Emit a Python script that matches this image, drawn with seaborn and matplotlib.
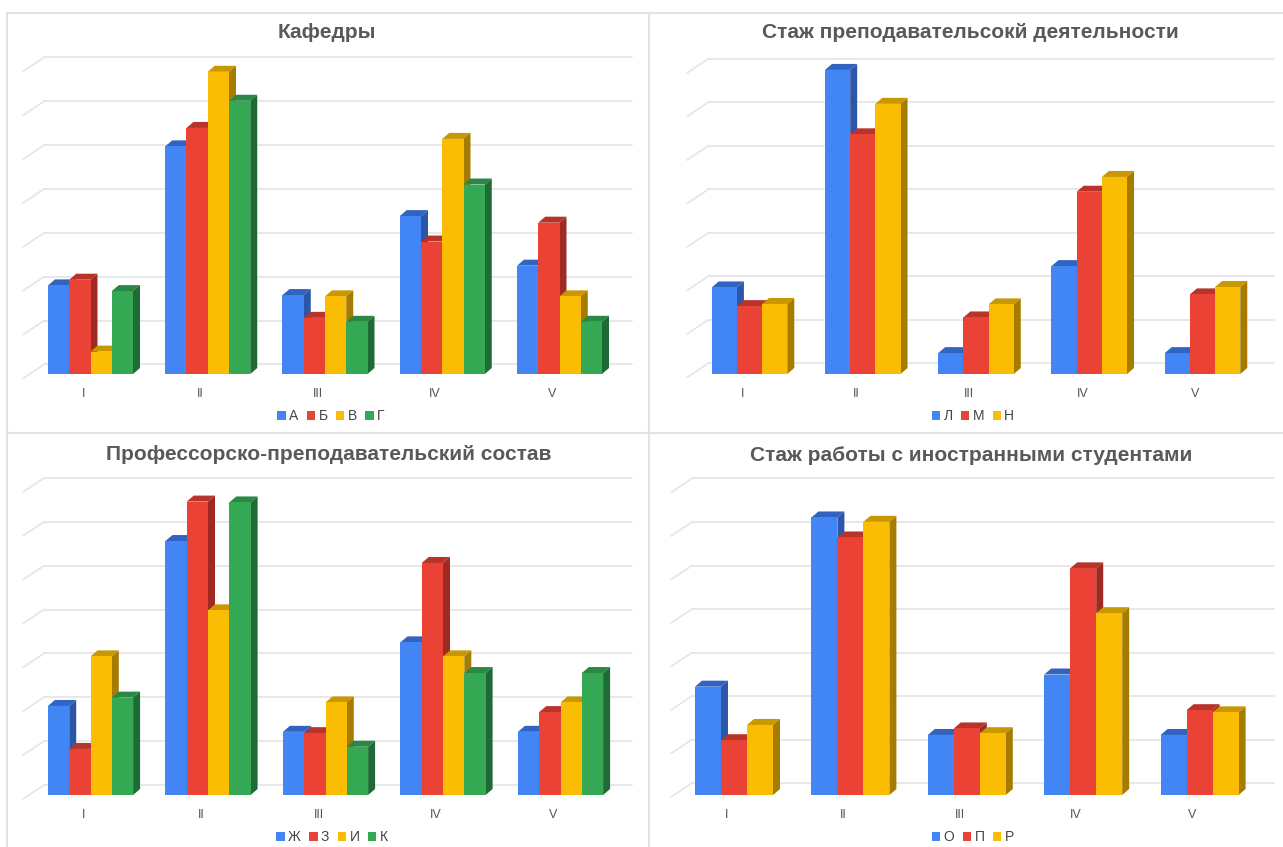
import numpy as np
import pandas as pd
import matplotlib
matplotlib.use("Agg")
import matplotlib.pyplot as plt
from matplotlib.patches import Polygon, Rectangle
from matplotlib.lines import Line2D
from matplotlib.transforms import ScaledTranslation
import seaborn as sns

# ---------------- DATA ----------------
categories = ["I", "II", "III", "IV", "V"]

kaf_title = "Кафедры"
kaf_series = ["А", "Б", "В", "Г"]
kaf_A = [2.02, 5.19, 1.80, 3.60, 2.47]
kaf_B = [2.15, 5.61, 1.28, 3.02, 3.45]
kaf_V = [0.51, 6.89, 1.77, 5.36, 1.77]
kaf_G = [1.89, 6.23, 1.19, 4.32, 1.19]

staz_title = "Стаж преподавательсокй деятельности"
staz_series = ["Л", "М", "Н"]
staz_L = [1.99, 6.99, 0.48, 2.48, 0.48]
staz_M = [1.56, 5.51, 1.30, 4.19, 1.83]
staz_N = [1.61, 6.21, 1.60, 4.53, 2.00]

pps_title = "Профессорско-преподавательский состав"
pps_series = ["Ж", "З", "И", "К"]
pps_Zh = [2.03, 5.79, 1.44, 3.48, 1.44]
pps_Z = [1.05, 6.69, 1.41, 5.29, 1.89]
pps_I = [3.16, 4.21, 2.11, 3.16, 2.11]
pps_K = [2.22, 6.67, 1.10, 2.78, 2.78]

inos_title = "Стаж работы с иностранными студентами"
inos_series = ["О", "П", "Р"]
inos_O = [2.49, 6.38, 1.38, 2.77, 1.38]
inos_P = [1.26, 5.92, 1.53, 5.21, 1.95]
inos_R = [1.61, 6.28, 1.42, 4.18, 1.90]

# ---------------- STYLE ----------------
front_cols = ["#4285F4", "#EA4335", "#FBBC04", "#34A853"]
top_cols = ["#3164C2", "#B8342A", "#C99700", "#2A8745"]
side_cols = ["#2C57A6", "#A02A22", "#A67C00", "#1F6B36"]

sns.set_theme(style="white")
plt.rcParams["font.family"] = ["Liberation Sans", "DejaVu Sans"]

W, H = 1283, 847
fig = plt.figure(figsize=(W / 100, H / 100), dpi=100)
fig.patch.set_facecolor("white")

panels = [
    dict(title=kaf_title, series=kaf_series, values=[kaf_A, kaf_B, kaf_V, kaf_G],
         wall_left=44, wall_right=632, cat0=90.5, step=117.25, base=374, top_grid=58,
         wall_off=9.5, unit=43.86, wfrac=0.725, title_x=327, title_y=33,
         leg_x=331, leg_y=416),
    dict(title=staz_title, series=staz_series, values=[staz_L, staz_M, staz_N],
         wall_left=708, wall_right=1274, cat0=749.5, step=113.25, base=374, top_grid=59,
         wall_off=10.5, unit=43.5, wfrac=0.667, title_x=970, title_y=33,
         leg_x=973, leg_y=416),
    dict(title=pps_title, series=pps_series, values=[pps_Zh, pps_Z, pps_I, pps_K],
         wall_left=44, wall_right=632, cat0=90.5, step=117.5, base=795, top_grid=478,
         wall_off=10, unit=43.86, wfrac=0.725, title_x=329, title_y=454,
         leg_x=332, leg_y=837),
    dict(title=inos_title, series=inos_series, values=[inos_O, inos_P, inos_R],
         wall_left=692, wall_right=1274, cat0=734, step=116.4, base=795, top_grid=479,
         wall_off=12, unit=43.5, wfrac=0.67, title_x=971, title_y=455,
         leg_x=973, leg_y=837),
]

DX_PX, DY_PX = 7.0, 6.0
GRID_COLOR = "#e6e6e6"

for p in panels:
    bottom_px = p["base"] + 5
    top_px = p["top_grid"] - 6
    ax = fig.add_axes([p["wall_left"] / W, 1 - bottom_px / H,
                       (p["wall_right"] - p["wall_left"]) / W, (bottom_px - top_px) / H])
    ax.set_facecolor("none")

    rows = []
    for s, vals in zip(p["series"], p["values"]):
        for c, v in zip(categories, vals):
            rows.append({"cat": c, "series": s, "val": v})
    df = pd.DataFrame(rows)
    n = len(p["series"])
    sns.barplot(data=df, x="cat", y="val", hue="series", order=categories,
                hue_order=p["series"], palette=front_cols[:n], saturation=1,
                width=p["wfrac"], errorbar=None, linewidth=0, ax=ax, legend=False)

    x0 = (p["wall_left"] - p["cat0"]) / p["step"]
    x1 = (p["wall_right"] - p["cat0"]) / p["step"]
    ax.set_xlim(x0, x1)
    ax.set_ylim((p["base"] - bottom_px) / p["unit"], (p["base"] - top_px) / p["unit"])

    dx = DX_PX / p["step"]
    dy = DY_PX / p["unit"]
    for j, cont in enumerate(ax.containers):
        for bar in cont:
            bx, bw, bh = bar.get_x(), bar.get_width(), bar.get_height()
            bar.set_zorder(11 + 2 * j)
            top = Polygon([(bx, bh), (bx + bw, bh), (bx + bw + dx, bh + dy), (bx + dx, bh + dy)],
                          closed=True, facecolor=top_cols[j], edgecolor="none", zorder=10 + 2 * j)
            side = Polygon([(bx + bw, 0), (bx + bw + dx, dy), (bx + bw + dx, bh + dy), (bx + bw, bh)],
                           closed=True, facecolor=side_cols[j], edgecolor="none", zorder=10 + 2 * j)
            ax.add_patch(top)
            ax.add_patch(side)

    # back-wall gridlines with perspective slant on the left
    sx = 21.0 / p["step"]
    sy = 14.0 / p["unit"]
    for k in range(8):
        yk = k + p["wall_off"] / p["unit"]
        ax.plot([x0, x1], [yk, yk], color=GRID_COLOR, lw=1.3, zorder=0.5, clip_on=False)
        ax.plot([x0, x0 - sx], [yk, yk - sy], color=GRID_COLOR, lw=1.3, zorder=0.5, clip_on=False)

    for sp in ax.spines.values():
        sp.set_visible(False)
    ax.set_yticks([])
    ax.set_xlabel("")
    ax.set_ylabel("")
    ax.set_xticks(range(len(categories)))
    ax.set_xticklabels(categories)
    ax.tick_params(axis="x", length=0, pad=6.5, labelsize=9, labelcolor="#555555")
    off = ScaledTranslation(-7 / 100, 0, fig.dpi_scale_trans)
    for lab in ax.get_xticklabels():
        lab.set_transform(lab.get_transform() + off)

    fig.text(p["title_x"] / W, 1 - p["title_y"] / H, p["title"], ha="center", va="center",
             fontsize=15, fontweight="bold", color="#595959")

    handles = [Rectangle((0, 0), 1, 1, facecolor=front_cols[i], edgecolor="none") for i in range(n)]
    ax.legend(handles, p["series"], loc="center", ncol=n, frameon=False,
              bbox_to_anchor=(p["leg_x"] / W, 1 - p["leg_y"] / H), bbox_transform=fig.transFigure,
              handlelength=0.6, handleheight=0.6, handletextpad=0.25, columnspacing=0.6,
              fontsize=10, labelcolor="#444444", borderpad=0)

# panel frame lines
FRAME = "#e2e2e2"
def fline(xa, ya, xb, yb):
    fig.add_artist(Line2D([xa / W, xb / W], [1 - ya / H, 1 - yb / H], color=FRAME, lw=1.5))

fline(7, 13, W, 13)
fline(7, 13, 7, H)
fline(7, 432.5, W, 432.5)
fline(649, 13, 649, H)

fig.savefig("out.png", dpi=100, facecolor="white")
